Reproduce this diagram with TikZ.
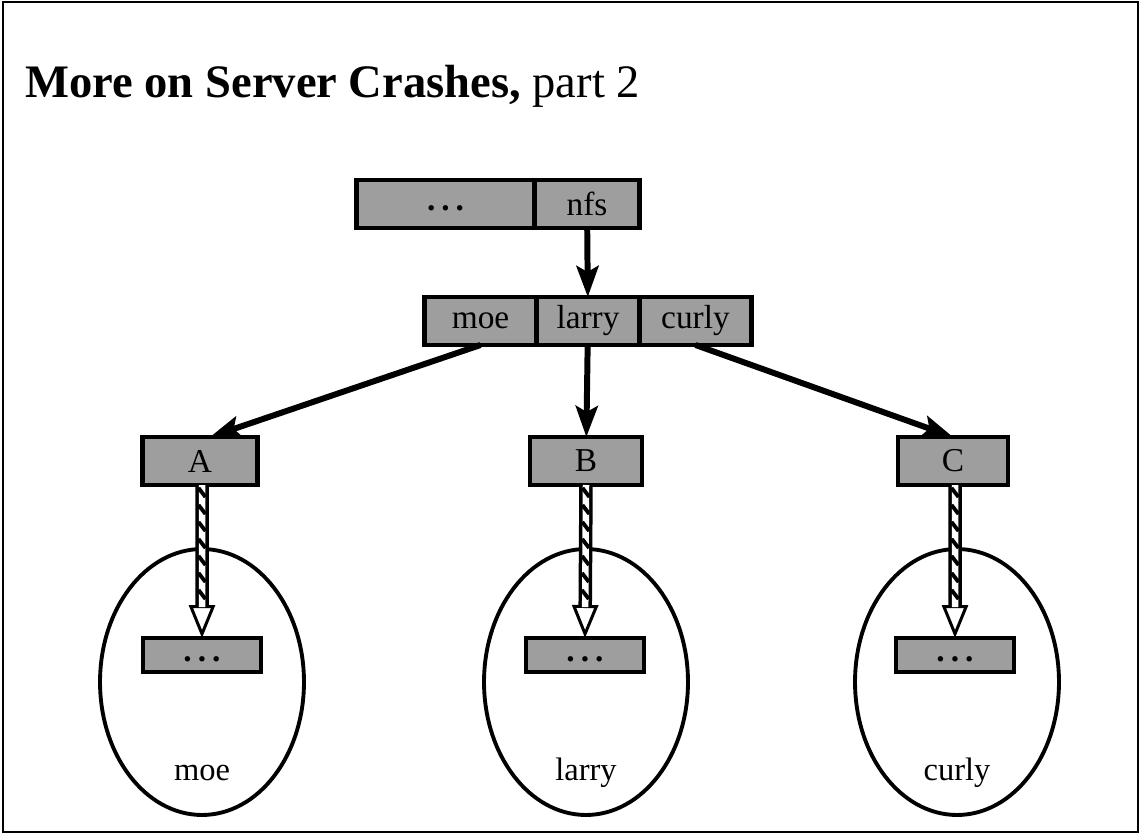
\documentclass[tikz,border=0pt]{standalone}
\usepackage{fontspec}
\setmainfont{Liberation Serif}
\usetikzlibrary{positioning, arrows.meta, shapes.geometric, decorations.markings}

\newcommand\etcdots{\raisebox{-0.2em}[0pt][0pt]{\bfseries .\hspace{0.18em}.\hspace{0.18em}.}}

\begin{document}
\begin{tikzpicture}[
      x=0.02cm, y=-0.02cm,
      box/.style={draw, line width=2.4pt, fill=black!38, outer sep=0pt,
                  inner sep=0pt, font=\fontsize{19}{22}\selectfont,
                  minimum height=0.96cm},
      small/.style={box, minimum height=0.68cm, minimum width=2.36cm},
      host/.style={ellipse, draw, line width=2.2pt, inner sep=0pt,
                   minimum width=4.08cm, minimum height=5.32cm},
      lbl/.style={font=\fontsize{18.5}{22}\selectfont, anchor=base},
      arr/.style={-{Stealth[length=0.62cm, width=0.44cm, inset=0.12cm]},
                  line width=3.4pt},
      hatch/.style={line width=0.27cm,
                    -{Triangle[length=0.66cm, width=0.52cm, fill=white, line width=1.7pt]},
                    postaction={draw=white, line width=0.13cm, arrows=-, shorten >=0.62cm},
                    postaction={decorate, decoration={markings,
                      mark=between positions 0.15cm and -0.8cm step 0.34cm with
                      {\draw[line width=2.2pt, arrows=-] (-0.09cm,-0.07cm) -- (0.09cm,0.07cm);}}}}]

    \useasboundingbox (0,0) rectangle (1142,835);
    \draw[line width=1.5pt] (3,2) rectangle (1138,832);

    % title
    \node[anchor=base west, inner sep=0pt, font=\fontsize{26.5}{30}\selectfont]
      (title) at (25,97) {\textbf{More on Server Crashes,} part 2};

    % mount table
    \node[box, minimum width=2.1cm] (nfs) at (587,204) {nfs};
    \node[box, minimum width=3.56cm, left=0pt of nfs] (etc) {\etcdots};

    % nfs directory
    \node[box, minimum width=2.06cm] (larry) at (588,321) {larry};
    \node[box, minimum width=2.24cm, left=0pt of larry]  (moe)   {moe};
    \node[box, minimum width=2.24cm, right=0pt of larry] (curly) {curly};

    % mount points
    \node[box, minimum width=2.3cm]  (A) at (200,461) {A};
    \node[box, minimum width=2.24cm] (B) at (586,461) {B};
    \node[box, minimum width=2.2cm]  (C) at (953,461) {C};

    % servers
    \node[host] (hmoe)   at (202,682) {};
    \node[host] (hlarry) at (586,682) {};
    \node[host] (hcurly) at (957,682) {};
    \node[small] (rmoe)   at (202,655) {\etcdots};
    \node[small] (rlarry) at (585,655) {\etcdots};
    \node[small] (rcurly) at (955,655) {\etcdots};
    \node[lbl] (nmoe)   at (202,780) {moe};
    \node[lbl] (nlarry) at (586,780) {larry};
    \node[lbl] (ncurly) at (957,780) {curly};

    \draw[arr] (nfs) -- (larry);
    \draw[arr] (moe.south) -- ([xshift=0.2cm]A.north);
    \draw[arr] (larry) -- (B);
    \draw[arr] (curly.south) -- (C.north);

    \draw[hatch] ([xshift=0.04cm]A.south) -- (rmoe.north);
    \draw[hatch] (B.south) -- (rlarry.north);
    \draw[hatch] ([xshift=0.04cm]C.south) -- (rcurly.north);
  \end{tikzpicture}
\end{document}
